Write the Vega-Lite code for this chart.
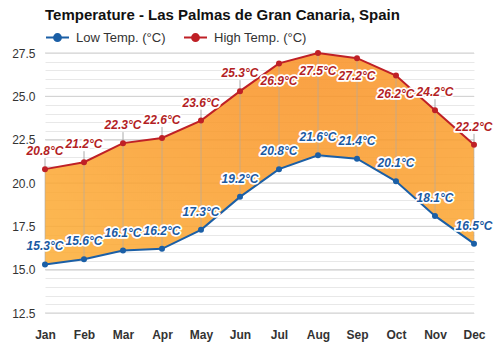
{
  "$schema": "https://vega.github.io/schema/vega-lite/v6.json",
  "width": 429,
  "height": 260,
  "autosize": {"type": "none"},
  "padding": {"left": 45, "top": 53, "right": 26, "bottom": 37},
  "background": "white",
  "title": {
    "text": "Temperature - Las Palmas de Gran Canaria, Spain",
    "anchor": "start",
    "frame": "group",
    "font": "Liberation Sans",
    "fontSize": 15,
    "fontWeight": "bold",
    "color": "#111",
    "offset": 2
  },
  "config": {
    "view": {"stroke": null},
    "font": "Liberation Sans",
    "axis": {"labelOverlap": false},
    "axisY": {
      "tickCount": 40,
      "labelOverlap": false,
      "gridColor": "#e8e8e8",
      "labelExpr": "abs(datum.value / 2.5 - round(datum.value / 2.5)) < 0.001 ? format(datum.value, '.1f') : ''"
    }
  },
  "datasets": {
    "temps": [
      {"month": "Jan", "low": 15.3, "high": 20.8},
      {"month": "Feb", "low": 15.6, "high": 21.2},
      {"month": "Mar", "low": 16.1, "high": 22.3},
      {"month": "Apr", "low": 16.2, "high": 22.6},
      {"month": "May", "low": 17.3, "high": 23.6},
      {"month": "Jun", "low": 19.2, "high": 25.3},
      {"month": "Jul", "low": 20.8, "high": 26.9},
      {"month": "Aug", "low": 21.6, "high": 27.5},
      {"month": "Sep", "low": 21.4, "high": 27.2},
      {"month": "Oct", "low": 20.1, "high": 26.2},
      {"month": "Nov", "low": 18.1, "high": 24.2},
      {"month": "Dec", "low": 16.5, "high": 22.2}
    ],
    "major": [
      {"g": 12.5}, {"g": 15}, {"g": 17.5}, {"g": 20}, {"g": 22.5}, {"g": 25}, {"g": 27.5}
    ]
  },
  "layer": [
    {
      "data": {"name": "major"},
      "mark": {"type": "rule", "color": "#d0d0d0", "strokeWidth": 1},
      "encoding": {
        "y": {
          "field": "g", "type": "quantitative",
          "scale": {"domain": [12.5, 27.5], "nice": false, "zero": false},
          "axis": {
            "title": null, "domain": false, "ticks": false, "labelPadding": 10,
            "labelOverlap": false,
            "tickCount": 40,
            "values": [12.5, 13, 13.5, 14, 14.5, 15, 15.5, 16, 16.5, 17, 17.5, 18, 18.5, 19, 19.5, 20, 20.5, 21, 21.5, 22, 22.5, 23, 23.5, 24, 24.5, 25, 25.5, 26, 26.5, 27, 27.5],
            "labelExpr": "abs(datum.value / 2.5 - round(datum.value / 2.5)) < 0.001 ? format(datum.value, '.1f') : ''",
            "gridColor": "#e8e8e8",
            "gridOpacity": 1,
            "labelFontSize": 12, "labelColor": "#333", "labelFont": "Liberation Sans"
          }
        }
      }
    },
    {
      "data": {"name": "temps"},
      "encoding": {
        "x": {
          "field": "month", "type": "ordinal", "sort": null,
          "scale": {"type": "point", "padding": 0},
          "axis": {
            "title": null, "labelAngle": 0, "domain": false, "ticks": false,
            "grid": false, "labelPadding": 16, "labelFontSize": 12,
            "labelFontWeight": "bold", "labelColor": "#333", "labelFont": "Liberation Sans"
          }
        }
      },
      "layer": [
        {
          "mark": {
            "type": "area",
            "opacity": 0.86,
            "color": {
              "gradient": "radial",
              "x1": 0.6, "y1": 0, "r1": 0,
              "x2": 0.6, "y2": 0, "r2": 1.1,
              "stops": [
                {"offset": 0, "color": "#f7861f"},
                {"offset": 1, "color": "#fdb43a"}
              ]
            }
          },
          "encoding": {
            "y": {"field": "high", "type": "quantitative"},
            "y2": {"field": "low"}
          }
        },
        {
          "mark": {"type": "rule", "color": "#aaaaaa", "opacity": 0.6, "strokeWidth": 1},
          "encoding": {
            "y": {"field": "high", "type": "quantitative"},
            "y2": {"field": "low"}
          }
        },
        {
          "transform": [{"filter": {"not": {"field": "month", "oneOf": ["Jul", "Aug", "Sep", "Oct"]}}}],
          "mark": {"type": "rule", "color": "#aaaaaa", "strokeWidth": 1, "y2Offset": -11},
          "encoding": {
            "y": {"field": "high", "type": "quantitative"},
            "y2": {"field": "high"}
          }
        },
        {
          "transform": [{"fold": ["low", "high"], "as": ["key", "value"]}],
          "mark": {"type": "line", "strokeWidth": 2},
          "encoding": {
            "y": {"field": "value", "type": "quantitative"},
            "color": {
              "field": "key", "type": "nominal",
              "scale": {"domain": ["low", "high"], "range": ["#1b5fa6", "#bf2026"]},
              "legend": {
                "orient": "none", "legendX": 0, "legendY": -28,
                "direction": "horizontal", "title": null,
                "labelExpr": "datum.label == 'low' ? 'Low Temp. (°C)' : 'High Temp. (°C)'",
                "labelFontSize": 13, "labelColor": "#333", "labelFont": "Liberation Sans",
                "labelOffset": 6, "columnPadding": 14,
                "symbolType": "M-1,0L1,0M0.3,0A0.3,0.3,0,1,1,-0.3,0A0.3,0.3,0,1,1,0.3,0",
                "symbolSize": 529, "symbolStrokeWidth": 2,
                "encode": {"symbols": {"update": {"fill": {"scale": "color", "field": "value"}}}}
              }
            }
          }
        },
        {
          "transform": [{"fold": ["low", "high"], "as": ["key", "value"]}],
          "mark": {"type": "point", "filled": true, "size": 36, "opacity": 1},
          "encoding": {
            "y": {"field": "value", "type": "quantitative"},
            "color": {"field": "key", "type": "nominal"}
          }
        },
        {
          "transform": [{"filter": {"not": {"field": "month", "oneOf": ["Jul", "Aug", "Sep", "Oct"]}}}, {"calculate": "format(datum.high, '.1f') + '°C'", "as": "hl"}],
          "mark": {"type": "text", "dy": -18, "fontSize": 12, "fontWeight": "bold", "fontStyle": "italic", "font": "Liberation Sans", "stroke": "white", "strokeWidth": 3.5, "strokeJoin": "round"},
          "encoding": {"y": {"field": "high", "type": "quantitative"}, "text": {"field": "hl"}}
        },
        {
          "transform": [{"filter": {"not": {"field": "month", "oneOf": ["Jul", "Aug", "Sep", "Oct"]}}}, {"calculate": "format(datum.high, '.1f') + '°C'", "as": "hl"}],
          "mark": {"type": "text", "dy": -18, "fontSize": 12, "fontWeight": "bold", "fontStyle": "italic", "font": "Liberation Sans", "color": "#b31e24"},
          "encoding": {"y": {"field": "high", "type": "quantitative"}, "text": {"field": "hl"}}
        },
        {
          "transform": [{"filter": {"field": "month", "oneOf": ["Jul", "Aug", "Sep", "Oct"]}}, {"calculate": "format(datum.high, '.1f') + '°C'", "as": "hl"}],
          "mark": {"type": "text", "dy": 18, "fontSize": 12, "fontWeight": "bold", "fontStyle": "italic", "font": "Liberation Sans", "stroke": "white", "strokeWidth": 3.5, "strokeJoin": "round"},
          "encoding": {"y": {"field": "high", "type": "quantitative"}, "text": {"field": "hl"}}
        },
        {
          "transform": [{"filter": {"field": "month", "oneOf": ["Jul", "Aug", "Sep", "Oct"]}}, {"calculate": "format(datum.high, '.1f') + '°C'", "as": "hl"}],
          "mark": {"type": "text", "dy": 18, "fontSize": 12, "fontWeight": "bold", "fontStyle": "italic", "font": "Liberation Sans", "color": "#b31e24"},
          "encoding": {"y": {"field": "high", "type": "quantitative"}, "text": {"field": "hl"}}
        },
        {
          "transform": [{"calculate": "format(datum.low, '.1f') + '°C'", "as": "ll"}],
          "mark": {"type": "text", "dy": -18, "fontSize": 12, "fontWeight": "bold", "fontStyle": "italic", "font": "Liberation Sans", "stroke": "white", "strokeWidth": 3.5, "strokeJoin": "round"},
          "encoding": {"y": {"field": "low", "type": "quantitative"}, "text": {"field": "ll"}}
        },
        {
          "transform": [{"calculate": "format(datum.low, '.1f') + '°C'", "as": "ll"}],
          "mark": {"type": "text", "dy": -18, "fontSize": 12, "fontWeight": "bold", "fontStyle": "italic", "font": "Liberation Sans", "color": "#1a5aa3"},
          "encoding": {"y": {"field": "low", "type": "quantitative"}, "text": {"field": "ll"}}
        }
      ]
    }
  ]
}
